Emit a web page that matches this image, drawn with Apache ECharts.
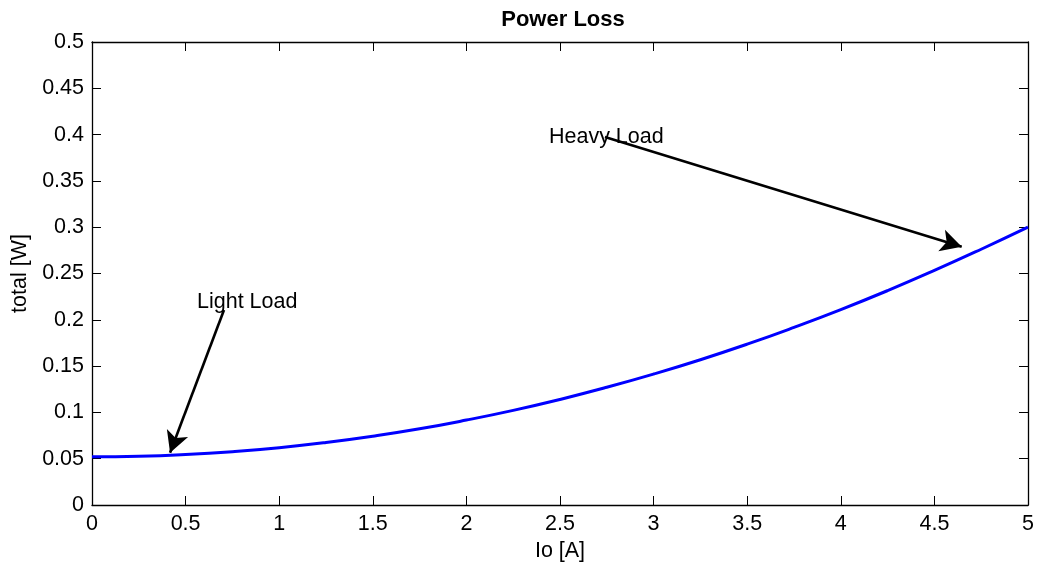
<!DOCTYPE html>
<html>
<head>
<meta charset="utf-8">
<style>
  html, body { margin: 0; padding: 0; background: #fff; }
  #chart { width: 1038px; height: 567px; }
</style>
<script src="https://cdn.jsdelivr.net/npm/echarts@6/dist/echarts.min.js"></script>
</head>
<body>
<div id="chart"></div>
<script>
// current Io [A]
const ioValues = [0, 0.25, 0.5, 0.75, 1, 1.25, 1.5, 1.75, 2, 2.25, 2.5,
  2.75, 3, 3.25, 3.5, 3.75, 4, 4.25, 4.5, 4.75, 5];
// total loss [W]
const lossValues = [0.052, 0.0526, 0.0545, 0.0576, 0.0619, 0.0675, 0.0743, 0.0823,
  0.0917, 0.1022, 0.114, 0.1271, 0.1414, 0.1569, 0.1737, 0.1918, 0.211,
  0.2315, 0.2533, 0.2762, 0.3];
// annotations: [x, y] of arrow tail and head, text anchor
const lightArrow = [[0.705, 0.2106], [0.417, 0.0565]];
const heavyArrow = [[2.74, 0.3974], [4.646, 0.279]];
const notes = [[0.561, 0.2192, 'Light Load'], [2.441, 0.3974, 'Heavy Load']];

const FONT = 'Liberation Sans, Arial, Helvetica, sans-serif';
const chart = echarts.init(document.getElementById('chart'));

const tickStyle = { show: true, inside: true, length: 9, lineStyle: { color: '#000', width: 1 } };
const lineStyle = { show: true, onZero: false, lineStyle: { color: '#000', width: 1.3 } };
const labelStyle = { color: '#000', fontSize: 21.5, fontFamily: FONT, margin: 8 };

function xAxisCfg(pos, withLabels) {
  return {
    type: 'value', position: pos, min: 0, max: 5, interval: 0.5,
    axisLine: lineStyle, axisTick: tickStyle, splitLine: { show: false },
    axisLabel: withLabels ? labelStyle : { show: false },
    name: withLabels ? 'Io [A]' : '', nameLocation: 'middle', nameGap: 35,
    nameTextStyle: { color: '#000', fontSize: 21.5, fontFamily: FONT }
  };
}
function yAxisCfg(pos, withLabels) {
  return {
    type: 'value', position: pos, min: 0, max: 0.5, interval: 0.05,
    axisLine: lineStyle, axisTick: tickStyle, splitLine: { show: false },
    axisLabel: withLabels ? labelStyle : { show: false },
    name: withLabels ? 'total [W]' : '', nameLocation: 'middle', nameGap: 60,
    nameTextStyle: { color: '#000', fontSize: 21.5, fontFamily: FONT }
  };
}

chart.setOption({
  animation: false,
  backgroundColor: '#fff',
  title: {
    text: 'Power Loss', left: 558, textAlign: 'center', top: 4,
    textStyle: { color: '#000', fontSize: 22, fontWeight: 'bold', fontFamily: FONT }
  },
  grid: { left: 92, right: 10, top: 42, bottom: 62, containLabel: false },
  xAxis: [xAxisCfg('bottom', true), xAxisCfg('top', false)],
  yAxis: [yAxisCfg('left', true), yAxisCfg('right', false)],
  series: [
    {
      type: 'line',
      data: ioValues.map((x, i) => [x, lossValues[i]]),
      showSymbol: false,
      smooth: true,
      lineStyle: { color: '#0000ff', width: 3 },
      markLine: {
        silent: true,
        symbol: ['none', 'arrow'],
        symbolSize: [17, 21],
        label: { show: false },
        lineStyle: { color: '#000', width: 2.6, type: 'solid', opacity: 1 },
        itemStyle: { color: '#000' },
        emphasis: { disabled: true },
        data: [
          [{ coord: lightArrow[0] }, { coord: lightArrow[1] }],
          [{ coord: heavyArrow[0] }, { coord: heavyArrow[1] }]
        ]
      }
    },
    {
      type: 'scatter',
      data: notes,
      symbolSize: 0,
      silent: true,
      label: {
        show: true, position: 'right', distance: 0,
        formatter: p => p.data[2],
        color: '#000', opacity: 1, fontSize: 21.5, fontFamily: FONT
      }
    }
  ]
});
</script>
</body>
</html>
